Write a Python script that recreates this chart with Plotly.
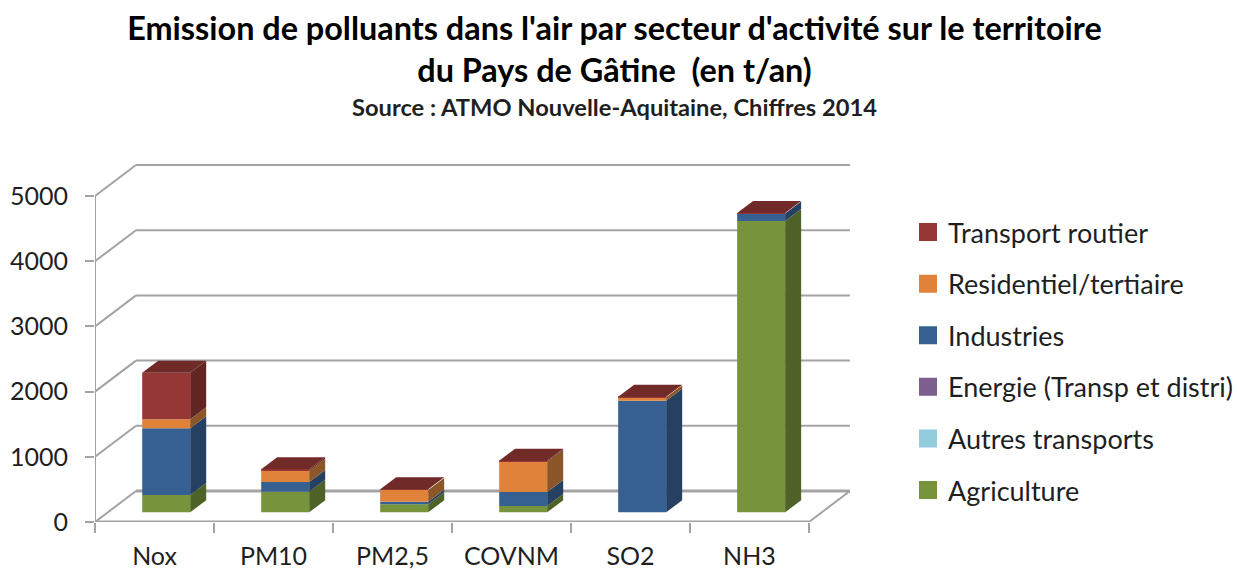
import plotly.graph_objects as go

categories = ["Nox", "PM10", "PM2,5", "COVNM", "SO2", "NH3"]
series_names = ["Agriculture", "Autres transports", "Energie (Transp et distri)",
                "Industries", "Residentiel/tertiaire", "Transport routier"]
agriculture = [265, 316, 123, 97, 0, 4468]
autres_transports = [0, 0, 0, 0, 0, 0]
energie = [0, 0, 0, 0, 0, 0]
industries = [1023, 149, 40, 214, 1712, 116]
residentiel = [138, 173, 179, 465, 52, 0]
transport = [715, 22, 11, 15, 8, 5]
series_values = [agriculture, autres_transports, energie, industries, residentiel, transport]
y_ticks = [0, 1000, 2000, 3000, 4000, 5000]

FRONT = ["#77933C", "#93CDDD", "#7C5F8E", "#376092", "#E0823A", "#953735"]
SIDE = ["#4F6228", "#5F8FA0", "#4F3B5F", "#254061", "#8C5728", "#632523"]
TOP = "#702A28"
GRID = "#A3A3A3"
FONT = "Lato"
TXT = "#1F1F1F"

PX_X = 119.0        # pixels per category
PX_Y = 0.0652       # pixels per data unit
wall_dx, wall_dy = 41 / PX_X, 31 / PX_Y
bar_w = 48 / PX_X
bar_dx, bar_dy = 16 / PX_X, 12 / PX_Y
bar_x_off, bar_y_off = 11.7 / PX_X, 9.7 / PX_Y

fig = go.Figure()
xpos = list(range(len(categories)))
cum = [0.0] * len(categories)
polys = []
for name, vals, fc, sc in zip(series_names, series_values, FRONT, SIDE):
    base = [c + bar_y_off for c in cum]
    fig.add_trace(go.Bar(x=[i + bar_x_off for i in xpos], y=vals, base=base, width=bar_w,
                         marker=dict(color=fc, line=dict(width=0)), showlegend=False, name=name))
    for i, v in enumerate(vals):
        if v <= 0:
            continue
        xr = i + bar_x_off + bar_w / 2
        b, t = base[i], base[i] + v
        polys.append(([xr, xr + bar_dx, xr + bar_dx, xr, xr],
                      [b, b + bar_dy, t + bar_dy, t, b], sc))
    cum = [c + v for c, v in zip(cum, vals)]

for xs, ys, col in polys:
    fig.add_trace(go.Scatter(x=xs, y=ys, mode="lines", fill="toself", fillcolor=col,
                             line=dict(width=0), hoverinfo="skip", showlegend=False))
for i in xpos:
    xl = i + bar_x_off - bar_w / 2
    xr = xl + bar_w
    t = cum[i] + bar_y_off
    fig.add_trace(go.Scatter(x=[xl, xl + bar_dx, xr + bar_dx, xr, xl],
                             y=[t, t + bar_dy, t + bar_dy, t, t], mode="lines", fill="toself",
                             fillcolor=TOP, line=dict(width=0), hoverinfo="skip", showlegend=False))

for name, col in reversed(list(zip(series_names, FRONT))):
    fig.add_trace(go.Scatter(x=[None], y=[None], mode="markers", name=name, legendgroup=name,
                             marker=dict(symbol="square", size=16, color=col,
                                         line=dict(color=col, width=2))))

shapes = []
x0, x1 = -0.5, len(categories) - 0.5
def seg(xa, ya, xb, yb, w=2):
    shapes.append(dict(type="line", xref="x", yref="y", x0=xa, y0=ya, x1=xb, y1=yb,
                       layer="below", line=dict(color=GRID, width=w)))
for v in y_ticks:
    seg(x0, v, x0 + wall_dx, v + wall_dy)
    seg(x0 + wall_dx, v + wall_dy, x1 + wall_dx, v + wall_dy, 3 if v == 0 else 2)
seg(x0, 0, x0, y_ticks[-1])
seg(x0, 0, x1, 0, 3)
seg(x1, 0, x1 + wall_dx, wall_dy)

W, H = 1237, 570
fig.update_layout(
    width=W, height=H, autosize=False, barmode="overlay",
    paper_bgcolor="white", plot_bgcolor="white",
    margin=dict(l=95, r=387, t=150, b=48, autoexpand=False),
    title=dict(text="Emission de polluants dans l'air par secteur d'activité sur le territoire"
                    "<br>du Pays de Gâtine \u00a0(en t/an)",
               x=614.5 / W, xanchor="center", y=1 - 40 / H, yanchor="middle", automargin=False,
               font=dict(family=FONT, size=32.4, color="#000000", weight="bold")),
    annotations=[dict(text="Source : ATMO Nouvelle-Aquitaine, Chiffres 2014", xref="paper", yref="paper",
                      x=(614.5 - 95) / 755, y=(522 - 107) / 372, xanchor="center", yanchor="middle",
                      showarrow=False, font=dict(family=FONT, size=23.7, color=TXT, weight="bold"))],
    shapes=shapes,
    showlegend=True,
    legend=dict(x=(908 - 95) / 755, xanchor="left", y=(522 - 208) / 372, yanchor="top",
                traceorder="grouped", tracegroupgap=13.5, itemsizing="trace",
                font=dict(family=FONT, size=27, color=TXT), bgcolor="rgba(0,0,0,0)"),
    xaxis=dict(range=[x0, x1 + 0.345], tickmode="array", tickvals=xpos, ticktext=categories,
               ticks="", showgrid=False, zeroline=False, showline=False, automargin=False,
               tickfont=dict(family=FONT, size=25, color=TXT), ticklabelstandoff=17,
               minor=dict(tickmode="array", tickvals=[i - 0.5 for i in range(len(categories) + 1)],
                          ticks="outside", ticklen=10, tickwidth=2, tickcolor=GRID, showgrid=False)),
    yaxis=dict(range=[0, 372 / PX_Y], tickmode="array", tickvals=y_ticks, automargin=False,
               ticks="outside", ticklen=9, tickwidth=2, tickcolor=GRID,
               showgrid=False, zeroline=False, showline=False, ticklabelstandoff=12,
               tickfont=dict(family=FONT, size=25, color=TXT)),
)
fig.write_html("out.html", config={"displayModeBar": False},
               post_script="document.body.style.margin='0';document.body.style.overflow='hidden';")
